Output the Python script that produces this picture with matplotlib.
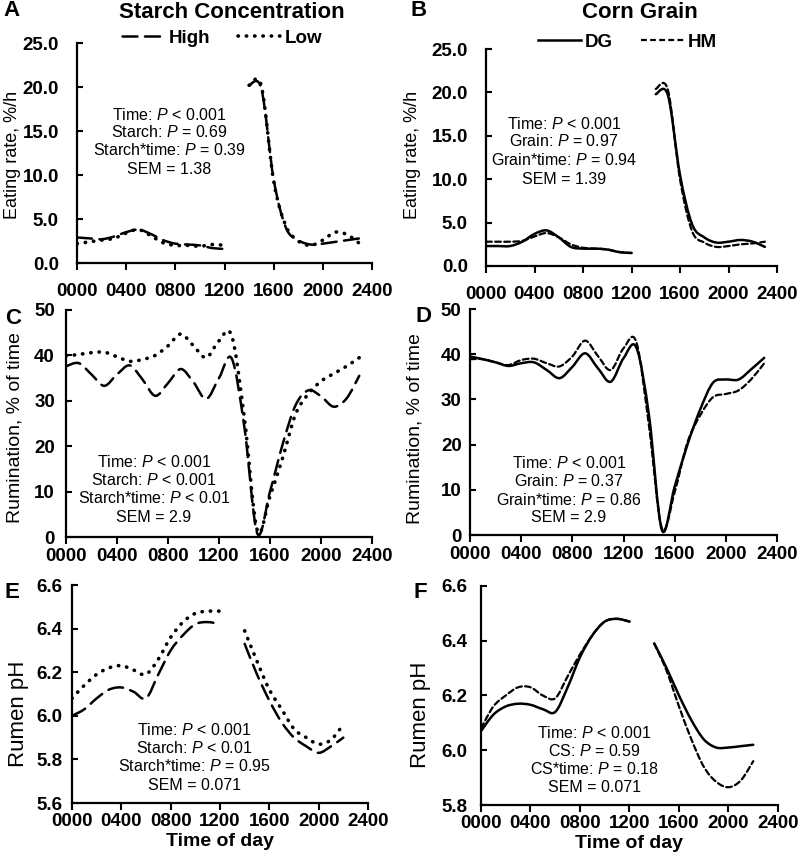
import numpy as np
import matplotlib
matplotlib.use('Agg')
import matplotlib.pyplot as plt
from matplotlib.path import Path
from matplotlib.patches import PathPatch
from matplotlib.lines import Line2D

plt.rcParams['font.family'] = ['Liberation Sans', 'DejaVu Sans']
plt.rcParams['mathtext.fontset'] = 'custom'
plt.rcParams['mathtext.rm'] = 'Liberation Sans'
plt.rcParams['mathtext.it'] = 'Liberation Sans:italic'

# time of day in hours (0000 - 2300)
hours_am = [0, 1, 2, 3, 4, 5, 6, 7, 8, 9, 10, 11, 12]
hours_pm = [14, 15, 16, 17, 18, 19, 20, 21, 22, 23]
hours_pm_ph = [14, 15, 16, 17, 18, 19, 20, 21, 22]
hours_all = list(range(24))
tick_hours = [0, 4, 8, 12, 16, 20, 24]
tick_labels = ['0000', '0400', '0800', '1200', '1600', '2000', '2400']

# A - eating rate, starch concentration
eat_high_am = [2.9, 2.8, 2.7, 3.0, 3.5, 3.8, 3.3, 2.6, 2.2, 2.1, 2.0, 1.7, 1.6]
eat_low_am = [2.2, 2.4, 2.6, 2.8, 3.4, 3.8, 3.1, 2.3, 2.0, 2.0, 1.9, 2.1, 2.0]
eat_high_pm = [20.2, 19.8, 9.5, 4.0, 2.6, 2.1, 2.2, 2.4, 2.6, 2.8]
eat_low_pm = [20.2, 20.1, 9.3, 4.2, 2.5, 2.0, 2.6, 3.5, 3.2, 2.2]

# B - eating rate, corn grain
eat_dg_am = [2.3, 2.3, 2.3, 2.8, 3.7, 4.1, 3.3, 2.2, 2.0, 2.0, 1.9, 1.6, 1.5]
eat_hm_am = [2.8, 2.8, 2.8, 2.9, 3.4, 3.8, 3.3, 2.5, 2.1, 2.0, 1.9, 1.6, 1.5]
eat_dg_pm = [19.8, 19.7, 10.5, 4.8, 3.3, 2.7, 2.8, 3.0, 2.8, 2.2]
eat_hm_pm = [20.4, 20.3, 10.0, 4.0, 2.7, 2.2, 2.3, 2.5, 2.6, 2.8]

# C - rumination, starch concentration
rum_high = [37.6, 38.3, 35.8, 33.3, 35.8, 37.8, 34.7, 31.1, 33.9, 37.0, 34.1, 30.4,
            35.0, 39.3, 24.0, 0.8, 10.0, 20.5, 29.0, 32.3, 31.0, 28.7, 30.5, 35.5]
rum_low = [39.9, 40.2, 40.6, 40.7, 39.7, 38.7, 39.1, 40.0, 42.1, 44.7, 42.1, 39.5,
           43.2, 44.3, 26.0, 1.5, 9.0, 17.5, 27.0, 31.5, 34.3, 36.0, 37.6, 39.5]

# D - rumination, corn grain
rum_dg = [39.5, 38.9, 38.2, 37.4, 38.0, 38.2, 36.5, 34.7, 37.2, 40.2, 36.9, 33.9,
          39.1, 41.5, 26.3, 1.1, 10.7, 20.0, 27.8, 33.7, 34.4, 34.4, 36.7, 39.2]
rum_hm = [38.9, 38.9, 38.2, 37.6, 38.7, 39.0, 38.0, 37.3, 39.5, 43.0, 39.6, 36.5,
          41.3, 42.7, 24.0, 1.5, 9.5, 20.5, 26.5, 30.5, 31.2, 32.0, 34.5, 38.0]

# E - rumen pH, starch concentration
ph_high_am = [6.00, 6.03, 6.08, 6.12, 6.13, 6.11, 6.08, 6.19, 6.30, 6.37, 6.42, 6.43, 6.42]
ph_low_am = [6.08, 6.14, 6.19, 6.22, 6.23, 6.21, 6.19, 6.26, 6.36, 6.43, 6.47, 6.48, 6.48]
ph_high_pm = [6.33, 6.19, 6.07, 5.97, 5.90, 5.86, 5.83, 5.86, 5.90]
ph_low_pm = [6.39, 6.25, 6.12, 6.03, 5.94, 5.90, 5.87, 5.89, 5.96]

# F - rumen pH, corn grain
ph_dg_am = [6.07, 6.13, 6.16, 6.17, 6.166, 6.15, 6.14, 6.23, 6.34, 6.42, 6.47, 6.48, 6.47]
ph_hm_am = [6.08, 6.16, 6.20, 6.23, 6.23, 6.20, 6.19, 6.27, 6.35, 6.42, 6.47, 6.48, 6.47]
ph_dg_pm = [6.39, 6.30, 6.20, 6.11, 6.04, 6.01, 6.01, 6.015, 6.02]
ph_hm_pm = [6.39, 6.29, 6.16, 6.04, 5.94, 5.885, 5.865, 5.89, 5.96]

stats_a = ['Time: $P$ < 0.001', 'Starch: $P$ = 0.69', 'Starch*time: $P$ = 0.39', 'SEM = 1.38']
stats_b = ['Time: $P$ < 0.001', 'Grain: $P$ = 0.97', 'Grain*time: $P$ = 0.94', 'SEM = 1.39']
stats_c = ['Time: $P$ < 0.001', 'Starch: $P$ < 0.001', 'Starch*time: $P$ < 0.01', 'SEM = 2.9']
stats_d = ['Time: $P$ < 0.001', 'Grain: $P$ = 0.37', 'Grain*time: $P$ = 0.86', 'SEM = 2.9']
stats_e = ['Time: $P$ < 0.001', 'Starch: $P$ < 0.01', 'Starch*time: $P$ = 0.95', 'SEM = 0.071']
stats_f = ['Time: $P$ < 0.001', 'CS: $P$ = 0.59', 'CS*time: $P$ = 0.18', 'SEM = 0.071']

W, H = 800, 860
fig = plt.figure(figsize=(8, 8.6), dpi=100)


def box(l, t, r, b):
    return [l / W, 1 - b / H, (r - l) / W, (b - t) / H]


def fx(x, y):
    return x / W, 1 - y / H


# line styles
high = dict(linestyle=(0, (6, 3)), linewidth=1.8)
low = dict(linestyle=(0, (0.1, 2.2)), linewidth=2.6)
dg = dict(linestyle='-', linewidth=1.8)
hm = dict(linestyle=(0, (2.6, 1.5)), linewidth=1.6)


def smooth(ax, x, y, st):
    # excel-like smoothed line through the points (catmull-rom as bezier)
    pts = np.column_stack([x, y]).astype(float)
    ext = np.vstack([pts[0], pts, pts[-1]])
    verts = [pts[0]]
    codes = [Path.MOVETO]
    for i in range(len(pts) - 1):
        p0, p1, p2, p3 = ext[i], ext[i + 1], ext[i + 2], ext[i + 3]
        verts += [p1 + (p2 - p0) / 6, p2 - (p3 - p1) / 6, p2]
        codes += [Path.CURVE4] * 3
    ax.add_patch(PathPatch(Path(verts, codes), fill=False, color='black',
                           capstyle='round', joinstyle='round', **st))


def setup(ax, ylim, yticks, fmt, ylabel, ysize, ypad, xpad, lab_xy):
    ax.set_xlim(0, 24)
    ax.set_ylim(*ylim)
    ax.set_xticks(tick_hours)
    ax.set_xticklabels(tick_labels)
    ax.set_yticks(yticks)
    ax.set_yticklabels([fmt % v for v in yticks])
    for s in ['top', 'right']:
        ax.spines[s].set_visible(False)
    for s in ['left', 'bottom']:
        ax.spines[s].set_linewidth(1.6)
    ax.tick_params(axis='y', direction='in', length=4, width=1.5, pad=ypad)
    ax.tick_params(axis='x', direction='out', length=5, width=1.5, pad=xpad)
    for lab in ax.get_xticklabels() + ax.get_yticklabels():
        lab.set_fontweight('bold')
        lab.set_fontsize(13.5)
    ax.set_ylabel(ylabel, fontsize=ysize, va='center')
    ax.yaxis.set_label_coords(*lab_xy)


def stats(lines, cx, ys):
    for s, y in zip(lines, ys):
        fig.text(*fx(cx, y), s, ha='center', va='center', fontsize=11.5)


axA = fig.add_axes(box(77, 43, 372, 263))
axB = fig.add_axes(box(486, 49, 777, 266))
axC = fig.add_axes(box(66, 310, 372, 537))
axD = fig.add_axes(box(470, 309, 777, 535))
axE = fig.add_axes(box(72, 585, 368, 803))
axF = fig.add_axes(box(481, 586, 778, 805))

# A
smooth(axA, hours_am, eat_high_am, high)
smooth(axA, hours_pm, eat_high_pm, high)
smooth(axA, hours_am, eat_low_am, low)
smooth(axA, hours_pm, eat_low_pm, low)
setup(axA, (0, 25), [0, 5, 10, 15, 20, 25], '%.1f', 'Eating rate, %/h', 13, 13, 9.5, (-0.22, 0.49))

# B
smooth(axB, hours_am, eat_dg_am, dg)
smooth(axB, hours_pm, eat_dg_pm, dg)
smooth(axB, hours_am, eat_hm_am, hm)
smooth(axB, hours_pm, eat_hm_pm, hm)
setup(axB, (0, 25), [0, 5, 10, 15, 20, 25], '%.1f', 'Eating rate, %/h', 13, 13, 9.5, (-0.254, 0.51))

# C
smooth(axC, hours_all, rum_high, high)
smooth(axC, hours_all, rum_low, low)
setup(axC, (0, 50), [0, 10, 20, 30, 40, 50], '%d', 'Rumination, % of time', 14, 8, 3.2, (-0.167, 0.48))

# D
smooth(axD, hours_all, rum_dg, dg)
smooth(axD, hours_all, rum_hm, hm)
setup(axD, (0, 50), [0, 10, 20, 30, 40, 50], '%d', 'Rumination, % of time', 14, 6, 3.2, (-0.179, 0.473))

# E
smooth(axE, hours_am, ph_high_am, high)
smooth(axE, hours_pm_ph, ph_high_pm, high)
smooth(axE, hours_am, ph_low_am, low)
smooth(axE, hours_pm_ph, ph_low_pm, low)
setup(axE, (5.6, 6.6), [5.6, 5.8, 6.0, 6.2, 6.4, 6.6], '%.1f', 'Rumen pH', 16, 7, 2.5, (-0.182, 0.41))
axE.set_xlabel('Time of day', fontsize=14, fontweight='bold', labelpad=2)

# F
smooth(axF, hours_am, ph_dg_am, dg)
smooth(axF, hours_pm_ph, ph_dg_pm, dg)
smooth(axF, hours_am, ph_hm_am, hm)
smooth(axF, hours_pm_ph, ph_hm_pm, hm)
setup(axF, (5.8, 6.6), [5.8, 6.0, 6.2, 6.4, 6.6], '%.1f', 'Rumen pH', 16, 10, 2.5, (-0.205, 0.41))
axF.set_xlabel('Time of day', fontsize=14, fontweight='bold', labelpad=2)

# statistics text
stats(stats_a, 169, [115, 132, 150, 169])
stats(stats_b, 564, [124, 141, 160, 179])
stats(stats_c, 154, [462, 480, 498, 517])
stats(stats_d, 569, [463, 481, 500, 518])
stats(stats_e, 194, [730, 748, 766, 785])
stats(stats_f, 594, [733, 751, 769, 787])

# titles, panel letters
fig.text(*fx(232, 13), 'Starch Concentration', ha='center', va='center', fontsize=16, fontweight='bold')
fig.text(*fx(640, 13), 'Corn Grain', ha='center', va='center', fontsize=16, fontweight='bold')
for letter, x, y in [('A', 12, 11), ('B', 419, 11), ('C', 13, 318),
                     ('D', 423, 317), ('E', 12, 592), ('F', 420, 593)]:
    fig.text(*fx(x, y), letter, ha='center', va='center', fontsize=16, fontweight='bold')

# legends
h_high = Line2D([], [], color='black', dash_capstyle='round', **high)
h_low = Line2D([], [], color='black', dash_capstyle='round', **low)
h_dg = Line2D([], [], color='black', **dg)
h_hm = Line2D([], [], color='black', **hm)
fig.legend([h_high, h_low], ['High', 'Low'], loc='center', bbox_to_anchor=fx(222, 38),
           ncol=2, frameon=False, handlelength=2.3, handletextpad=0.2, columnspacing=1.5,
           prop={'size': 13.5, 'weight': 'bold'})
fig.legend([h_dg, h_hm], ['DG', 'HM'], loc='center', bbox_to_anchor=fx(627, 42),
           ncol=2, frameon=False, handlelength=2.3, handletextpad=0.2, columnspacing=1.5,
           prop={'size': 13.5, 'weight': 'bold'})

fig.savefig('out.png', dpi=100)
